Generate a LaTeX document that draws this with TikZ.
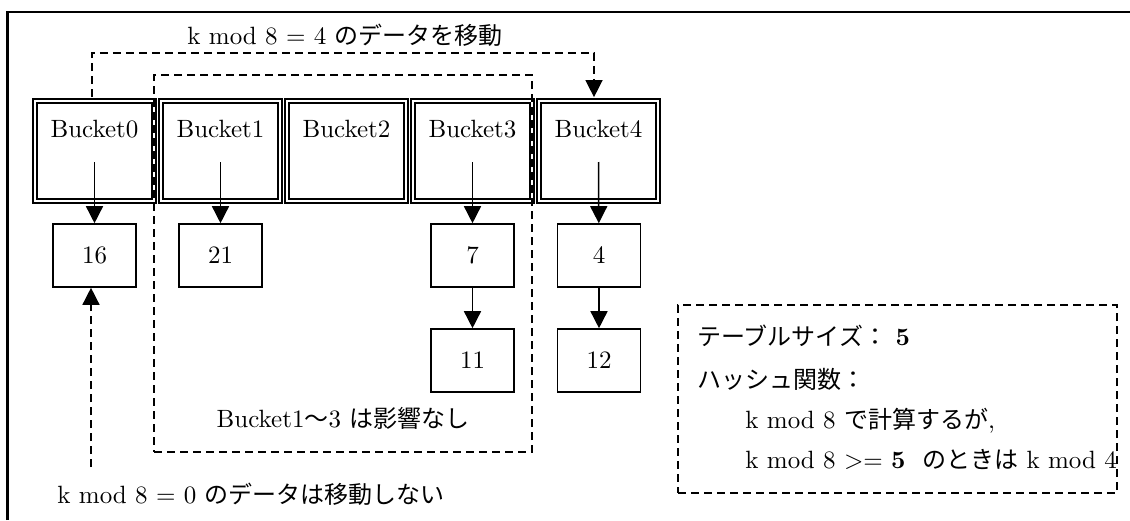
\documentclass[tikz,border=0pt]{standalone}
\usepackage{fontspec}
\setmainfont{lmroman10-regular.otf}[BoldFont=lmroman10-bold.otf]
\newfontfamily\jp{Noto Sans CJK JP}[Scale=0.96]
\usetikzlibrary{arrows.meta}
\newcommand\jpt[1]{{\jp #1}}
\begin{document}
\begin{tikzpicture}[x=0.5pt,y=-0.5pt,
  txt/.style={inner sep=0pt,font=\fontsize{12.5pt}{15pt}\selectfont},
  bucket/.style={draw=black,line width=0.85pt,double=white,double distance=1.3pt,minimum width=59.5pt,minimum height=50pt,inner sep=0pt},
  databox/.style={draw=black,line width=0.8pt,minimum width=41.5pt,minimum height=31.5pt,inner sep=0pt,font=\fontsize{12.5pt}{15pt}\selectfont},
  arr/.style={line width=0.75pt,-{Triangle[length=8.5pt,width=8.5pt]}},
  dasharr/.style={line width=0.7pt,dash pattern=on 4pt off 2.5pt,-{Triangle[length=8.5pt,width=8.5pt]}},
  grpbox/.style={draw=black,line width=0.95pt,dash pattern=on 4pt off 2.5pt,inner sep=0pt}]
\useasboundingbox (0,0) rectangle (1130,520);
\fill[white] (0,0) rectangle (1130,520);
\draw[line width=1.1pt] (7.5,520) -- (7.5,12) -- (1130,12);

% buckets
\foreach \i in {0,...,4}{
  \node[bucket] (b\i) at ({94.5+126*\i},151) {};
  \node[txt,anchor=base] (bl\i) at ({94.5+126*\i},137) {Bucket\i};
}

% data boxes
\node[databox] (n16) at (94.5,255.5) {16};
\node[databox] (n21) at (220.5,255.5) {21};
\node[databox] (n7) at (472.5,255.5) {7};
\node[databox] (n11) at (472.5,360.5) {11};
\node[databox] (n4) at (599,255.5) {4};
\node[databox] (n12) at (599,360.5) {12};

\foreach \i/\n in {0/n16,1/n21,3/n7,4/n4}
  \draw[arr] ([yshift=-5.5pt]b\i.center) -- (\n);
\draw[arr] (n7) -- (n11);
\draw[arr] (n4) -- (n12);

% group box
\node[grpbox,minimum width=189pt,minimum height=188.5pt] (grp) at (343,263.5) {};
\node[txt,anchor=base] (grplbl) at (343,427) {Bucket1\jpt{〜}3 \jpt{は影響なし}};

% top move arrow
\coordinate (tl) at (92,53);
\coordinate (tr) at (594,53);
\coordinate (b0top) at ([yshift=1.5pt]b0.north);
\coordinate (b4top) at ([yshift=1.5pt]b4.north);
\draw[dasharr] (b0top -| tl) -- (tl) -- (tr) -- (b4top -| tr);
\node[txt,anchor=base] (toplbl) at (345,44) {k mod 8 = 4 \jpt{のデータを移動}};

% bottom arrow
\coordinate (bs) at (91,467);
\draw[dasharr] (bs) -- (bs |- n16.south);
\node[txt,anchor=base west] (botlbl) at (57,503) {k mod 8 = 0 \jpt{のデータは移動しない}};

% info box
\node[grpbox,line width=0.8pt,minimum width=219.5pt,minimum height=94pt] (info) at (897.5,399) {};
\node[txt,anchor=base west] (i1) at (697,345) {\jpt{テーブルサイズ：} \textbf{5}};
\node[txt,anchor=base west] (i2) at (697,388) {\jpt{ハッシュ関数：}};
\node[txt,anchor=base west] (i3) at (745,428) {k mod 8 \jpt{で計算するが}, };
\node[txt,anchor=base west] (i4) at (745,468) {k mod 8 >= \textbf{5} \ \jpt{のときは} k mod 4};
\end{tikzpicture}
\end{document}
